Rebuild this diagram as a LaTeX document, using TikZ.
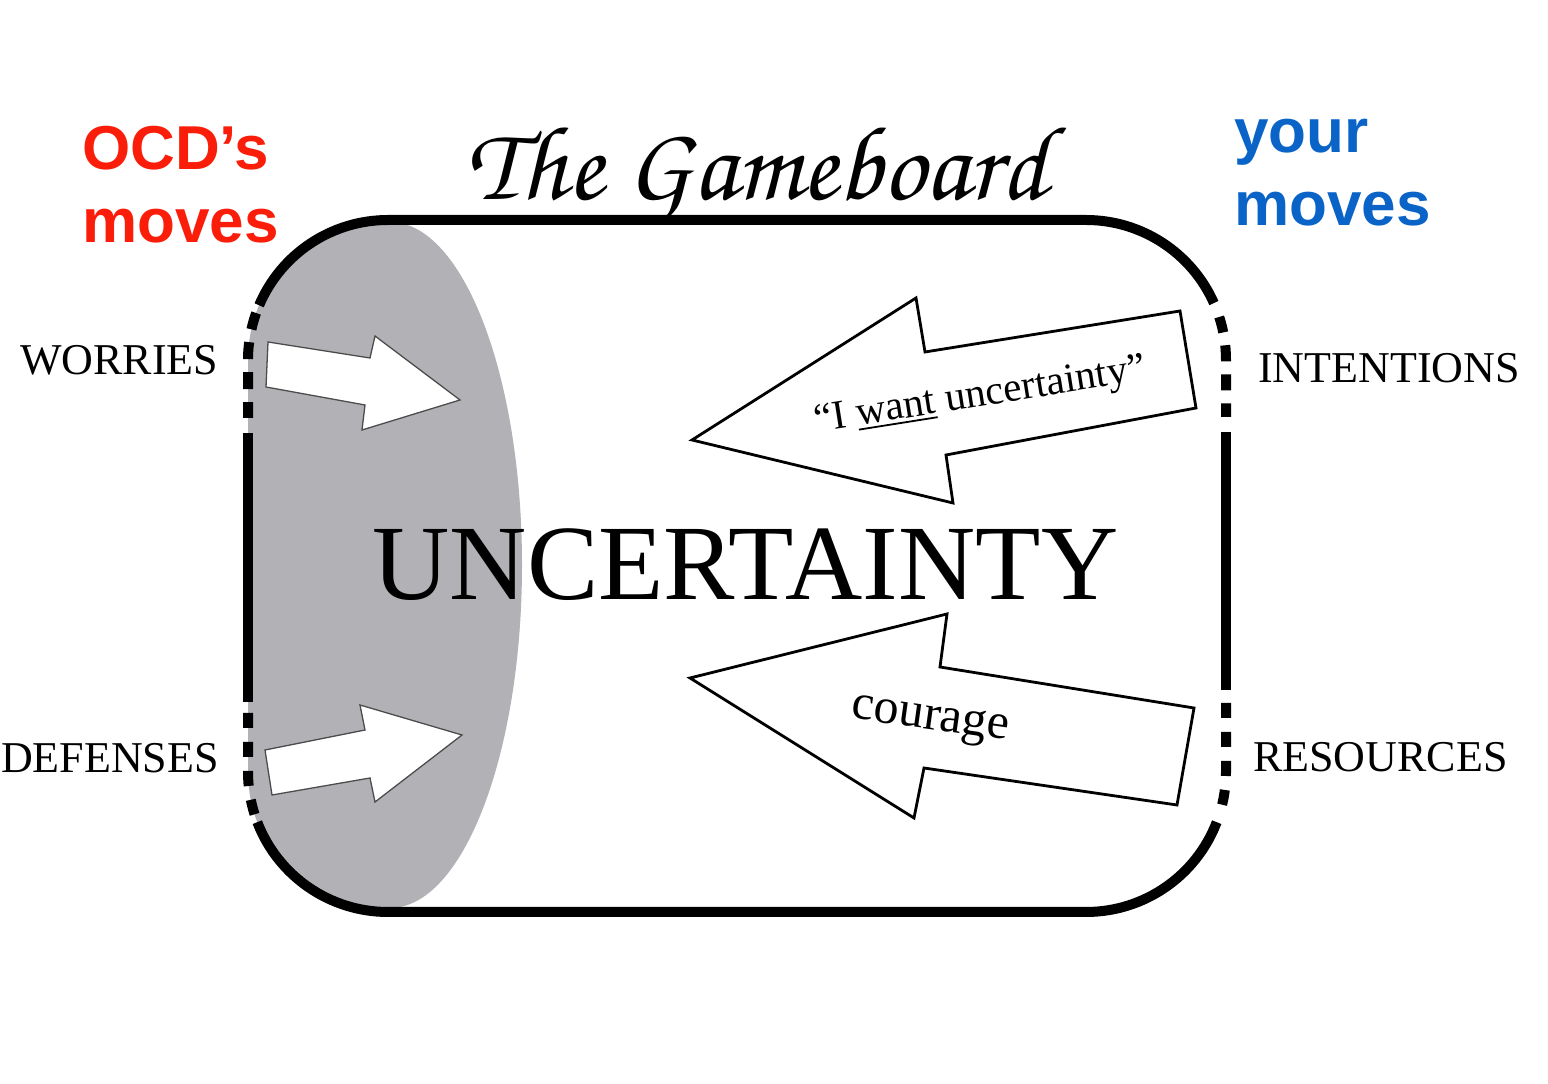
\documentclass[tikz,border=0pt]{standalone}
\usepackage[T1]{fontenc}
\usepackage{fontspec}
\usepackage{graphicx}
\setmainfont{Liberation Serif}
\newfontfamily\headsans{Liberation Sans}
\definecolor{ocdred}{RGB}{250,30,10}
\definecolor{yourblue}{RGB}{10,100,200}
\definecolor{boardgray}{RGB}{178,178,182}
\newcommand\wantline[1]{\setbox0\hbox{#1}\rlap{\rule[-5pt]{\wd0}{1.8pt}}\box0\relax}
\tikzset{
  border/.style={line width=10pt, black},
  solidpart/.style={border, line cap=butt},
  leftarrow/.style={fill=white, draw=black!70, line width=1.3pt, line join=miter},
  rightarrow/.style={fill=white, draw=black, line width=2.8pt, line join=miter},
  sidelabel/.style={inner sep=0pt, font=\fontsize{44}{50}\selectfont},
  movestext/.style={inner sep=0pt, align=left, font=\headsans\bfseries\fontsize{62}{73}\selectfont},
}
\begin{document}
\begin{tikzpicture}[x=1pt,y=1pt]
\useasboundingbox (0,0) rectangle (1548,1084);
\fill[white] (0,0) rectangle (1548,1084);

% grey region inside the board
\begin{scope}
  \clip[rounded corners=140pt] (248,172) rectangle (1226,864);
  \fill[boardgray] (200,176) -- (390,176)
    arc[start angle=-90, end angle=90, x radius=132, y radius=343] -- (200,862) -- cycle;
\end{scope}

% board outline: solid parts
\draw[solidpart] (388,724) ++(157:140) arc[start angle=157, end angle=90, radius=140]
  -- (1086,864) arc[start angle=90, end angle=24, radius=140];
\draw[solidpart] (388,312) ++(201:140) arc[start angle=201, end angle=270, radius=140]
  -- (1086,172) arc[start angle=270, end angle=339, radius=140];
\draw[solidpart] (248,651) -- (248,382);
\draw[solidpart] (1226,652) -- (1226,394);
% board outline: dashed parts
\draw[border, dash pattern=on 17pt off 13pt] (388,724) ++(160.4:140) arc[start angle=160.4, end angle=180, radius=140] -- (248,666);
\draw[border, dash pattern=on 15pt off 14pt] (248,371) -- (248,312) arc[start angle=180, end angle=198, radius=140];
\draw[border, dash pattern=on 16pt off 13pt] (1086,724) ++(17.9:140) arc[start angle=17.9, end angle=0, radius=140] -- (1226,667);
\draw[border, dash pattern=on 15pt off 14pt] (1226,381) -- (1226,312) arc[start angle=360, end angle=345.5, radius=140];

% OCD's arrows
\draw[leftarrow] (268,742) -- (370,726) -- (375,748) -- (460,684) -- (362,654) -- (365,679) -- (266,697) -- cycle;
\draw[leftarrow] (265,334) -- (365,354) -- (360,379) -- (462,349) -- (375,282) -- (370,306) -- (272,289) -- cycle;

% your arrows
\draw[rightarrow] (692,644) -- (916,786) -- (925,732) -- (1180,773) -- (1196,676) -- (946,629) -- (953,581) -- cycle;
\draw[rightarrow] (690,406) -- (947,470) -- (940,417) -- (1194,376) -- (1177,279) -- (924,316) -- (914,266) -- cycle;

\node[inner sep=0pt, anchor=base, rotate=9, font=\fontsize{41}{48}\selectfont] (want) at (982,678)
  {``I \wantline{want} uncertainty''};
\node[inner sep=0pt, anchor=base, rotate=-8, font=\fontsize{50}{58}\selectfont] (courage) at (929,355) {courage};

% central word
\node[inner sep=0pt, anchor=base, font=\fontsize{107}{120}\selectfont] (uncert) at (745.5,484) {UNCERTAINTY};

% side labels
\node[sidelabel, anchor=base west] (worries) at (20,709) {WORRIES};
\node[sidelabel, anchor=base west] (defenses) at (1,311) {DEFENSES};
\node[sidelabel, anchor=base west] (intentions) at (1258,701) {INTENTIONS};
\node[sidelabel, anchor=base west] (resources) at (1253,312) {RESOURCES};

% headings
\node[movestext, text=ocdred, anchor=base west] (ocd) at (82,841) {OCD’s\\moves};
\node[movestext, text=yourblue, anchor=base west] (yours) at (1234,858) {your\\moves};
\node[inner sep=0pt, anchor=base west] (title) at (466,884)
  {\resizebox{580pt}{!}{\usefont{T1}{pzc}{mb}{it}The Gameboard}};
\end{tikzpicture}
\end{document}
